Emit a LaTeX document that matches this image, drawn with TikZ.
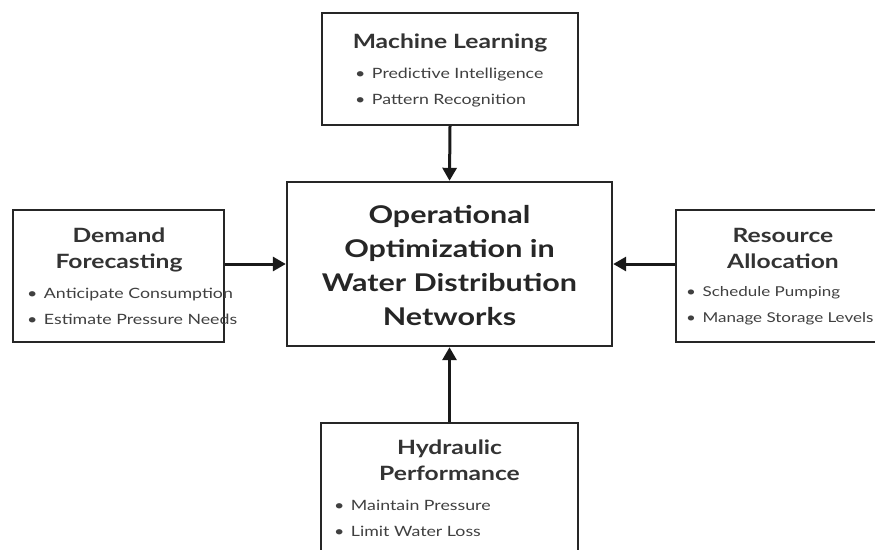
\documentclass[tikz,border=0pt]{standalone}
\usepackage{fontspec}
\setmainfont{Lato}[FakeStretch=1.25]
\usetikzlibrary{arrows.meta}

\newcommand{\itm}{\textbullet\hspace{6.5pt}}

\tikzset{
  box/.style={draw=black!85, line width=2.4pt, fill=white, inner sep=0pt},
  head/.style={font=\fontsize{19.7}{26}\selectfont\bfseries, text=black!80, align=center, inner sep=0pt},
  items/.style={font=\fontsize{14.2}{26}\selectfont, text=black!75, align=left, inner sep=0pt, anchor=west},
  arr/.style={line width=3pt, black!90, -{Triangle[length=13pt,width=14pt]}}
}

\begin{document}
\begin{tikzpicture}[x=1pt, y=-1pt]
  % Rahmen des Bildes
  \useasboundingbox (0,0) rectangle (875,549);
  \clip (0,0) rectangle (875,549);

  % Kaesten
  \node[box, minimum width=256pt, minimum height=112pt] (ml) at (450,69) {};
  \node[box, minimum width=325pt, minimum height=164pt] (ctr) at (449.5,264) {};
  \node[box, minimum width=211pt, minimum height=132pt] (dem) at (118.5,276) {};
  \node[box, minimum width=214pt, minimum height=132pt] (res) at (783,276) {};
  \node[box, minimum width=257pt, minimum height=134pt] (hyd) at (449.5,490) {};

  % Mitte
  \node[font=\fontsize{24.4}{34}\selectfont\bfseries, text=black!85, align=center] (ctrT) at (449.5,266)
    {Operational\\Optimization in\\Water Distribution\\Networks};

  % Oben
  \node[head] (mlT) at (450,43) {Machine Learning};
  \node[items] (mlL) at (355,88) {\itm Predictive Intelligence\\\itm Pattern Recognition};

  % Links
  \node[head] (demT) at (119,250) {Demand\\Forecasting};
  \node[items] (demL) at (27,306) {\itm Anticipate Consumption\\\itm Estimate Pressure Needs};

  % Rechts
  \node[head] (resT) at (783,248) {Resource\\Allocation};
  \node[items, font=\fontsize{13.6}{26}\selectfont] (resL) at (686,306) {\itm Schedule Pumping\\\itm Manage Storage Levels};

  % Unten
  \node[head] (hydT) at (449.5,460) {Hydraulic\\Performance};
  \node[items] (hydL) at (334,518) {\itm Maintain Pressure\\\itm Limit Water Loss};

  % Pfeile
  \draw[arr] (ml.south) -- (ctr.north);
  \draw[arr] (dem.east |- ctr.west) -- (ctr.west);
  \draw[arr] (res.west |- ctr.east) -- (ctr.east);
  \draw[arr] (hyd.north) -- (ctr.south);
\end{tikzpicture}
\end{document}
